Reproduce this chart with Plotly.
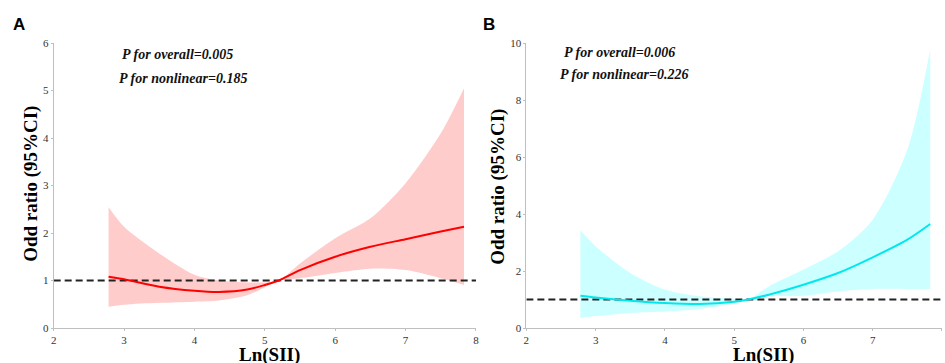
import plotly.graph_objects as go

# ---- Data ----
x_a = [2.78, 3.0, 3.5, 4.0, 4.35, 4.75, 5.0, 5.2, 5.5, 6.0, 6.5, 7.0, 7.5, 7.83]
or_a = [1.08, 1.025, 0.87, 0.785, 0.76, 0.81, 0.905, 1.0, 1.22, 1.50, 1.71, 1.87, 2.03, 2.13]
up_a = [2.54, 2.13, 1.57, 1.12, 1.0, 0.96, 0.96, 1.0, 1.36, 1.89, 2.31, 3.05, 4.1, 5.05]
lo_a = [0.45, 0.49, 0.53, 0.555, 0.58, 0.69, 0.86, 1.0, 1.05, 1.16, 1.25, 1.22, 1.05, 0.905]

x_b = [2.78, 3.0, 3.5, 4.0, 4.5, 5.0, 5.2, 5.5, 6.0, 6.5, 7.0, 7.5, 7.83]
or_b = [1.13, 1.07, 0.96, 0.88, 0.845, 0.92, 1.0, 1.17, 1.52, 1.93, 2.48, 3.1, 3.65]
up_b = [3.43, 2.87, 1.93, 1.35, 1.11, 1.03, 1.0, 1.46, 2.05, 2.69, 3.8, 6.26, 9.77]
lo_b = [0.35, 0.42, 0.53, 0.58, 0.67, 0.86, 1.0, 1.11, 1.13, 1.29, 1.37, 1.37, 1.37]

x_ticks = [2, 3, 4, 5, 6, 7, 8]
y_ticks_a = [0, 1, 2, 3, 4, 5, 6]
y_ticks_b = [0, 2, 4, 6, 8, 10]

ann_a = ["P for overall=0.005", "P for nonlinear=0.185"]
ann_b = ["P for overall=0.006", "P for nonlinear=0.226"]

W, H = 945, 363
T, B = 43, 35

def px(x):
    return x / W

def py(y):
    return (H - B - y) / (H - T - B)

fig = go.Figure()

def add_panel(xs, ors, ups, los, fill, line, xa, ya):
    fig.add_trace(go.Scatter(x=xs, y=ups, mode="lines", line=dict(width=0, shape="spline", smoothing=0.8),
                             hoverinfo="skip", showlegend=False, xaxis=xa, yaxis=ya))
    fig.add_trace(go.Scatter(x=xs, y=los, mode="lines", line=dict(width=0, shape="spline", smoothing=0.8),
                             fill="tonexty", fillcolor=fill, hoverinfo="skip", showlegend=False,
                             xaxis=xa, yaxis=ya))
    fig.add_trace(go.Scatter(x=[2, 8], y=[1, 1], mode="lines",
                             line=dict(color="#222222", width=2, dash="7px,4px"),
                             showlegend=False, hoverinfo="skip", xaxis=xa, yaxis=ya))
    fig.add_trace(go.Scatter(x=xs, y=ors, mode="lines",
                             line=dict(color=line, width=2, shape="spline", smoothing=0.8),
                             showlegend=False, xaxis=xa, yaxis=ya))

add_panel(x_a, or_a, up_a, lo_a, "#FFCCCC", "#FF0000", "x", "y")
add_panel(x_b, or_b, up_b, lo_b, "#CCFFFF", "#00E8EE", "x2", "y2")

SERIF = "Liberation Serif, Times New Roman, serif"
tickfont = dict(family=SERIF, size=11, color="#333333")
axis_common = dict(showgrid=False, zeroline=False, showline=True, linecolor="#BFBFBF", linewidth=1,
                   ticks="outside", ticklen=2, tickcolor="#BFBFBF", tickfont=tickfont)

fig.update_layout(
    width=W, height=H,
    margin=dict(l=0, r=0, t=T, b=B),
    paper_bgcolor="white", plot_bgcolor="white",
    xaxis=dict(domain=[px(51), px(476)], range=[2, 8], tickvals=x_ticks, anchor="y", **axis_common),
    yaxis=dict(domain=[0, 1], range=[0, 6], tickvals=y_ticks_a, anchor="x", **axis_common),
    xaxis2=dict(domain=[px(526.7), 1.0], range=[2, 8], tickvals=x_ticks, anchor="y2", **axis_common),
    yaxis2=dict(domain=[0, 1], range=[0, 10], tickvals=y_ticks_b, anchor="x2", **axis_common),
)

title_font = dict(family=SERIF, size=19, color="black")
pfont = dict(family=SERIF, size=14, color="#111111")
annots = [
    dict(text="<b>A</b>", x=px(8), y=py(24), xanchor="left", yanchor="middle",
         font=dict(family="Liberation Sans, Arial, sans-serif", size=17, color="black")),
    dict(text="<b>B</b>", x=px(481), y=py(24), xanchor="left", yanchor="middle",
         font=dict(family="Liberation Sans, Arial, sans-serif", size=17, color="black")),
    dict(text="<b>Odd ratio (95%CI)</b>", x=px(28), y=py(184), textangle=-90,
         xanchor="center", yanchor="middle", font=title_font),
    dict(text="<b>Odd ratio (95%CI)</b>", x=px(498), y=py(187), textangle=-90,
         xanchor="center", yanchor="middle", font=title_font),
    dict(text="<b>Ln(SII)</b>", x=px(268), y=py(342), xanchor="center", yanchor="top", font=title_font),
    dict(text="<b>Ln(SII)</b>", x=px(765), y=py(342), xanchor="center", yanchor="top", font=title_font),
    dict(text="<b><i>" + ann_a[0] + "</i></b>", x=px(118), y=py(54), xanchor="left", yanchor="middle", font=pfont),
    dict(text="<b><i>" + ann_a[1] + "</i></b>", x=px(115), y=py(78), xanchor="left", yanchor="middle", font=pfont),
    dict(text="<b><i>" + ann_b[0] + "</i></b>", x=px(563), y=py(52), xanchor="left", yanchor="middle", font=pfont),
    dict(text="<b><i>" + ann_b[1] + "</i></b>", x=px(559), y=py(74), xanchor="left", yanchor="middle", font=pfont),
]
for a in annots:
    a.update(xref="paper", yref="paper", showarrow=False)
fig.update_layout(annotations=annots)

fig.write_html("out.html", config={"displayModeBar": False},
               post_script="document.body.style.margin='0';")
